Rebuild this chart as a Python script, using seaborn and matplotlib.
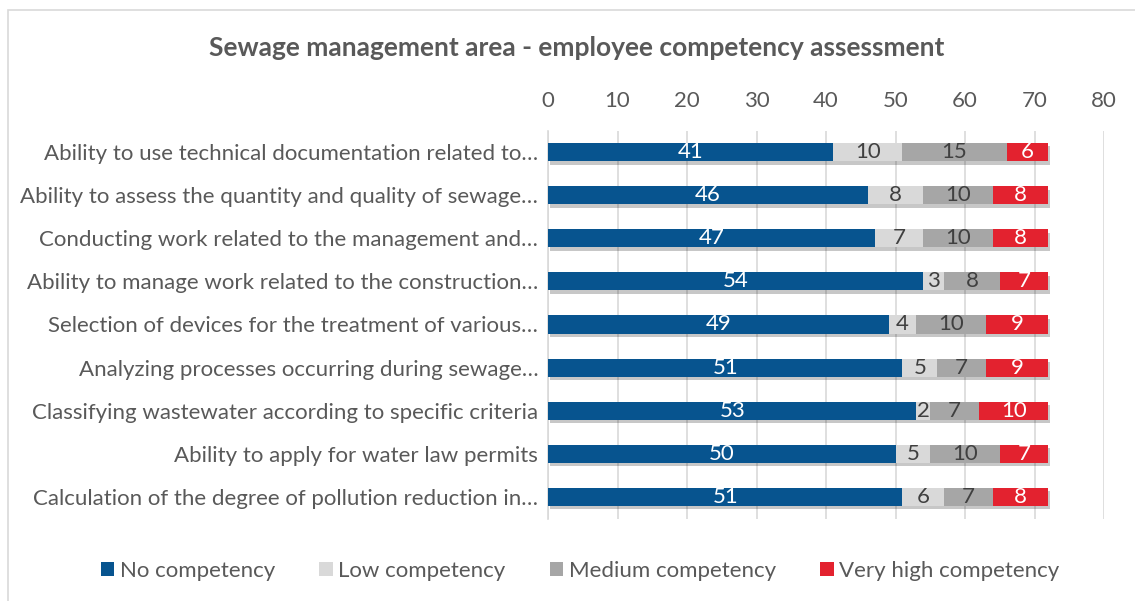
import matplotlib
matplotlib.use("Agg")
import matplotlib.pyplot as plt
import matplotlib.patheffects as pe
from matplotlib.patches import Patch, Rectangle
import numpy as np
import pandas as pd
import seaborn as sns

# ---------------------------------------------------------------------
# Data
# ---------------------------------------------------------------------
skills = [
    "Ability to use technical documentation related to\u2026",
    "Ability to assess the quantity and quality of sewage\u2026",
    "Conducting work related to the management and\u2026",
    "Ability to manage work related to the construction\u2026",
    "Selection of devices for the treatment of various\u2026",
    "Analyzing processes occurring during sewage\u2026",
    "Classifying wastewater according to specific criteria",
    "Ability to apply for water law permits",
    "Calculation of the degree of pollution reduction in\u2026",
]
levels = ["No competency", "Low competency", "Medium competency", "Very high competency"]
no_comp = [41, 46, 47, 54, 49, 51, 53, 50, 51]
low_comp = [10, 8, 7, 3, 4, 5, 2, 5, 6]
medium_comp = [15, 10, 10, 8, 10, 7, 7, 10, 7]
very_high_comp = [6, 8, 8, 7, 9, 9, 10, 7, 8]
x_ticks = [0, 10, 20, 30, 40, 50, 60, 70, 80]

colors = ["#07548f", "#d9d9d9", "#a6a6a6", "#e3222f"]
label_colors = ["white", "#404040", "#404040", "white"]
TEXT = "#595959"

sns.set_theme(style="white")
plt.rcParams["font.family"] = ["Lato", "DejaVu Sans"]

df = pd.DataFrame({
    "skill": skills,
    levels[0]: no_comp,
    levels[1]: low_comp,
    levels[2]: medium_comp,
    levels[3]: very_high_comp,
})
seg = df[levels]
cum = seg.cumsum(axis=1)

fig = plt.figure(figsize=(11.35, 6.01), dpi=100)
ax = fig.add_axes([548 / 1135, 1 - 518.5 / 601, 556 / 1135, 388 / 601])

# chart frame
fig.patches.append(Rectangle((8 / 1135, -0.05), 1.2, 1 - 10 / 601 + 0.05,
                             transform=fig.transFigure, fill=False,
                             edgecolor="#d9d9d9", linewidth=1.2, zorder=0))

# stacked bars: draw cumulative totals from the widest down
shadow = [pe.SimplePatchShadow(offset=(1.5, -2.5), shadow_rgbFace="black", alpha=0.22),
          pe.Normal()]
for i in reversed(range(len(levels))):
    sns.barplot(x=cum[levels[i]], y=df["skill"], orient="h", color=colors[i],
                width=0.42, ax=ax, saturation=1, zorder=3, linewidth=0,
                path_effects=shadow if i == len(levels) - 1 else None)

# segment labels
for i, lev in enumerate(levels):
    mids = cum[lev] - seg[lev] / 2
    for row, (m, v) in enumerate(zip(mids, seg[lev])):
        ax.text(m, row, str(v), ha="center", va="center", fontsize=16,
                color=label_colors[i], zorder=5)

ax.set_xlim(0, 80)
ax.set_xticks(x_ticks)
ax.xaxis.tick_top()
ax.tick_params(axis="x", length=0, pad=14, labelsize=16, labelcolor=TEXT)
ax.tick_params(axis="y", length=0, pad=7, labelsize=16, labelcolor=TEXT)
ax.set_xlabel("")
ax.set_ylabel("")
ax.grid(axis="x", color="#d9d9d9", linewidth=1.2, zorder=0)
ax.set_axisbelow(True)
for s in ["top", "right", "bottom"]:
    ax.spines[s].set_visible(False)
ax.spines["left"].set_color("#d9d9d9")
ax.spines["left"].set_linewidth(1.2)

fig.text(577 / 1135, 1 - 48 / 601, "Sewage management area - employee competency assessment",
         ha="center", va="center", fontsize=19, fontweight="bold", color=TEXT)

handles = [Patch(facecolor=c, edgecolor="none") for c in colors]
fig.legend(handles, levels, loc="center", bbox_to_anchor=(580 / 1135, 1 - 571 / 601),
           ncol=4, frameon=False, fontsize=16, labelcolor=TEXT,
           handlelength=0.6, handleheight=0.6, handletextpad=0.25, columnspacing=2.0)

fig.savefig("out.png", dpi=100)
